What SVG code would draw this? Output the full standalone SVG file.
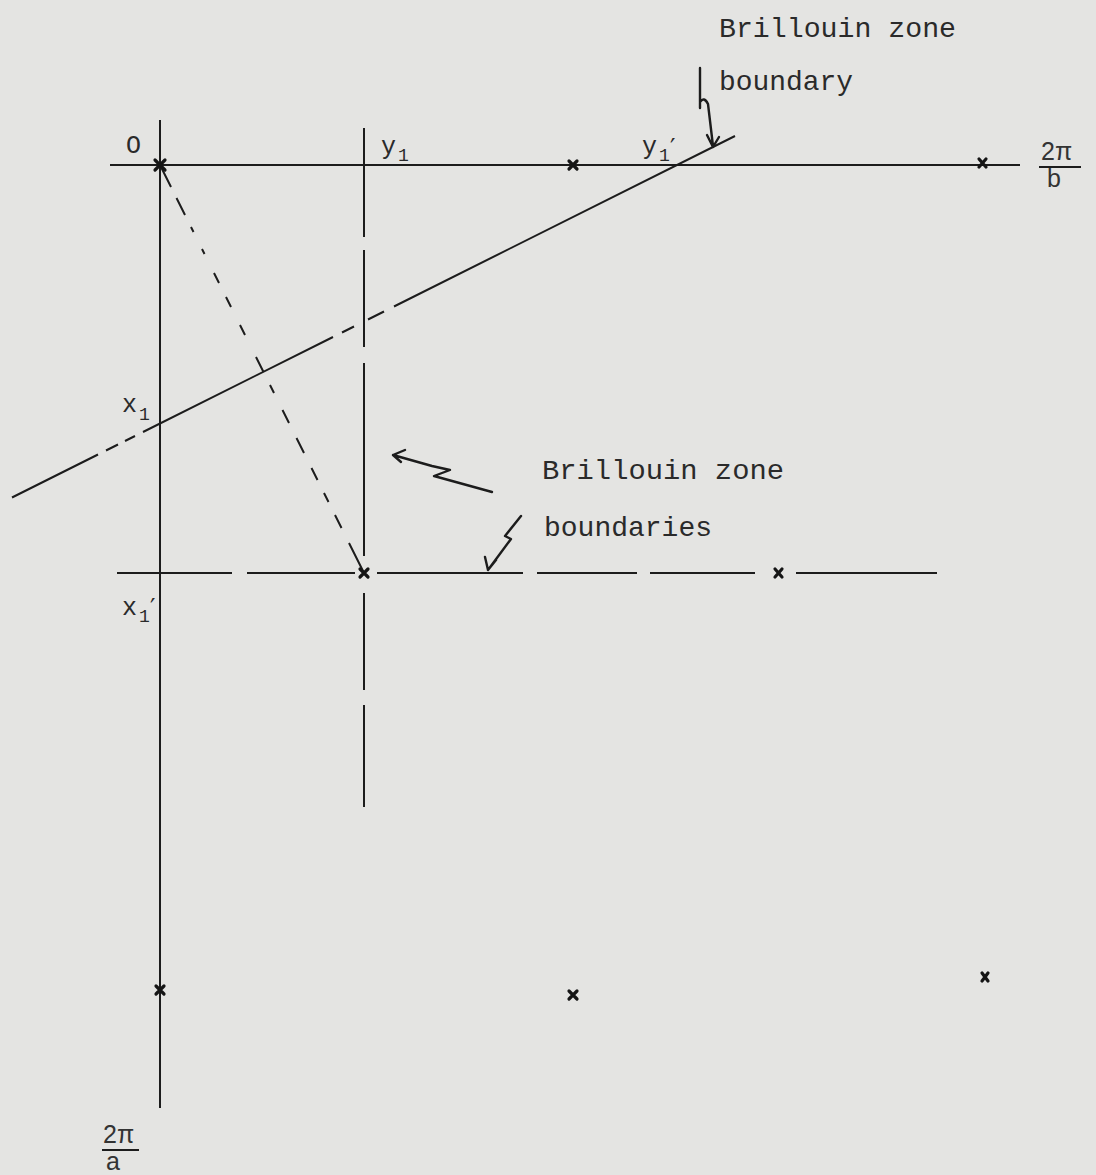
<svg xmlns="http://www.w3.org/2000/svg" width="1096" height="1175" viewBox="0 0 1096 1175">
<style>
.ln{stroke:#1c1c1c;stroke-width:2;fill:none;stroke-linecap:butt}
.x{stroke:#151515;stroke-width:3.2;fill:none;stroke-linecap:round}
.arr{stroke:#1c1c1c;stroke-width:2.4;fill:none;stroke-linecap:round;stroke-linejoin:round}
.tw{font-family:"Liberation Mono","DejaVu Sans Mono",monospace;font-size:28px;fill:#2a2a2a}
.lb{font-family:"Liberation Mono","DejaVu Sans Mono",monospace;font-size:25px;fill:#2a2a2a}
.sub{font-size:18px}
.pr{font-family:"DejaVu Sans",sans-serif;font-size:24px}
.fr{font-family:"Liberation Sans","DejaVu Sans",sans-serif;font-size:25px;fill:#333}
</style>
<rect x="0" y="0" width="1096" height="1175" fill="#e4e4e2"/>
<g id="axes">
<path class="ln" d="M110 165 L1020 165"/>
<path class="ln" d="M160 120 L160 1108"/>
</g>
<g id="grid-lines">
<path class="ln" d="M364 128 L364 237 M364 250 L364 347 M364 363 L364 556 M364 593 L364 690 M364 705 L364 807"/>
<path class="ln" d="M117 573 L232 573 M247 573 L355 573 M377 573 L523 573 M537 573 L637 573 M650 573 L755 573 M796 573 L937 573"/>
</g>
<g id="boundary-slanted">
<path class="ln" d="M12 497.5 L98 454.5 M106 450.5 L118 444.5 M125 441 L135 436 M143 432 L333 337 M342 332.5 L354 326.5 M368 319.5 L384 311.5 M394 306.5 L735 136"/>
</g>
<g id="boundary-diagonal">
<path class="ln" d="M160 165 L171 187 M176.5 198 L185 215 M191 227 L193.5 232 M202 249 L204.5 254 M214 273 L219 283 M226 297 L231 307 M240 325 L245 335 M256 357 L263.5 372 M270 385 L274 393 M282.5 410 L289 423 M296.5 438 L304 453 M311.5 468 L317.5 480 M324 493 L328.5 502 M335 515 L341.5 528 M349 543 L364 573"/>
</g>
<g id="points">
<path class="x" d="M155 160 L165 170 M165 160 L155 170" stroke-width="4"/>
<path class="x" d="M569 161 L577 169 M577 161 L569 169"/>
<path class="x" d="M979 159 L986 167 M986 159 L979 167"/>
<path class="x" d="M360 569 L368 577 M368 569 L360 577"/>
<path class="x" d="M775 569 L782 577 M782 569 L775 577"/>
<path class="x" d="M156 986 L164 994 M164 986 L156 994"/>
<path class="x" d="M569 991 L577 999 M577 991 L569 999"/>
<path class="x" d="M982 973 L988 981 M988 973 L982 981"/>
</g>
<g id="labels">
<text class="lb" x="126" y="153">O</text>
<text class="lb" x="381" y="154">y<tspan class="sub" x="398" dy="7">1</tspan></text>
<text class="lb" x="642" y="154">y<tspan class="sub" x="659" dy="7">1</tspan><tspan class="pr" x="670" dy="-5">′</tspan></text>
<text class="lb" x="122" y="412">x<tspan class="sub" x="139" dy="8">1</tspan></text>
<text class="lb" x="122" y="615">x<tspan class="sub" x="139" dy="7">1</tspan><tspan class="pr" x="150" dy="-6">′</tspan></text>
</g>
<g id="fraction-b">
<text class="fr" x="1041" y="160">2π</text>
<path class="ln" d="M1039 167 L1081 167" stroke-width="1.6"/>
<text class="fr" x="1047" y="187">b</text>
</g>
<g id="fraction-a">
<text class="fr" x="103" y="1143">2π</text>
<path class="ln" d="M102 1150 L139 1150" stroke-width="1.6"/>
<text class="fr" x="106" y="1170">a</text>
</g>
<g id="note-top">
<text class="tw" x="719" y="37" textLength="237" lengthAdjust="spacingAndGlyphs">Brillouin zone</text>
<text class="tw" x="719" y="90" textLength="134" lengthAdjust="spacingAndGlyphs">boundary</text>
</g>
<g id="note-bottom">
<text class="tw" x="542" y="479" textLength="242" lengthAdjust="spacingAndGlyphs">Brillouin zone</text>
<text class="tw" x="544" y="536" textLength="168" lengthAdjust="spacingAndGlyphs">boundaries</text>
</g>
<g id="connectors">
<path class="arr" d="M700 68 L700 108 M700 102 Q704 96 708 104 L713 146 M707 135 L713 147 L719 137"/>
<path class="arr" d="M393 455 L432 466 L450 470 L434 476 L492 492 M405 450 L393 455 L401 462"/>
<path class="arr" d="M521 516 L505 536 L511 539 L488 570 M485 557 L488 570 L496 560"/>
</g>
</svg>
